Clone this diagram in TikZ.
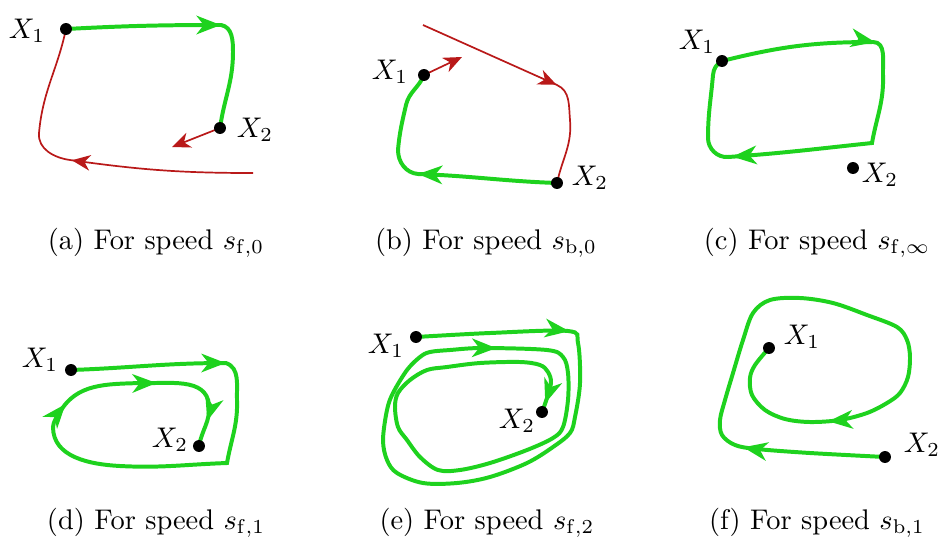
\documentclass[tikz,border=0pt]{standalone}
\usepackage{amsmath}
\usepackage{xcolor}
\usepackage{tikz}
\usetikzlibrary{arrows.meta,decorations.markings,backgrounds}

\definecolor{pathgreen}{RGB}{30,210,30}
\definecolor{pathred}{RGB}{185,25,25}

\begin{document}
\begin{tikzpicture}[
  x=0.352pt, y=0.352pt,
  dot/.style={circle, fill=black, inner sep=0pt, minimum size=4.2pt},
  lbl/.style={inner sep=0pt},
  capt/.style={inner sep=0pt},
  gline/.style={draw=pathgreen, line width=1.4pt,
                >={Stealth[length=8.5pt, width=6.5pt, inset=2.5pt]}},
  rline/.style={draw=pathred, line width=0.6pt,
                >={Stealth[length=6.5pt, width=5.5pt, inset=2pt]}},
  marrow/.style={postaction={decorate, decoration={markings,
                 mark=at position #1 with {\arrow{>}}}}}
]
\useasboundingbox (0,0) rectangle (940,-547);

\node[dot] (a1) at (66,-29) {};
\node[dot] (a2) at (220,-128) {};
\node[lbl] (a1l) at (27,-31) {$X_1$};
\node[lbl] (a2l) at (255,-130) {$X_2$};
\coordinate (a0) at (253,-173);
\coordinate (a3) at (172,-147);
\node[capt] (capa) at (156,-243) {(a) For speed $s_{\mathrm{f},0}$};

\node[dot] (b1) at (424,-75) {};
\node[dot] (b2) at (557,-183) {};
\node[lbl] (b1l) at (390,-72) {$X_1$};
\node[lbl] (b2l) at (590,-178) {$X_2$};
\coordinate (b0) at (423,-25);
\coordinate (b3) at (462,-57);
\node[capt] (capb) at (486,-243) {(b) For speed $s_{\mathrm{b},0}$};

\node[dot] (c1) at (722,-61) {};
\node[dot] (c2) at (853,-168) {};
\node[lbl] (c1l) at (697,-42) {$X_1$};
\node[lbl] (c2l) at (880,-175) {$X_2$};
\node[capt] (capc) at (817,-243) {(c) For speed $s_{\mathrm{f},\infty}$};

\node[dot] (d1) at (71,-370) {};
\node[dot] (d2) at (199,-446) {};
\node[lbl] (d1l) at (40,-360) {$X_1$};
\node[lbl] (d2l) at (170,-440) {$X_2$};
\node[capt] (capd) at (156,-523) {(d) For speed $s_{\mathrm{f},1}$};

\node[dot] (e1) at (416,-337) {};
\node[dot] (e2) at (542,-412) {};
\node[lbl] (e1l) at (386,-346) {$X_1$};
\node[lbl] (e2l) at (517,-421) {$X_2$};
\node[capt] (cape) at (487,-523) {(e) For speed $s_{\mathrm{f},2}$};

\node[dot] (f1) at (769,-348) {};
\node[dot] (f2) at (885,-457) {};
\node[lbl] (f1l) at (802,-337) {$X_1$};
\node[lbl] (f2l) at (922,-445) {$X_2$};
\node[capt] (capf) at (817,-523) {(f) For speed $s_{\mathrm{b},1}$};

\begin{scope}[on background layer]
\draw[gline, marrow=54.5pt] (a1.center) to[out=3,in=180] (221,-25)
  to[out=-10,in=90] (233,-52) to[out=-90,in=82] (a2.center);
\draw[rline, marrow=64pt] (a0) to[out=180,in=-8] (70,-160)
  to[out=172,in=-95] (39,-133) to[out=85,in=-102] (a1.center);
\draw[rline, ->] (a2.center) -- (a3);

\draw[rline, marrow=51.5pt] (b0) -- (557,-85) to[out=-24,in=95] (570,-120)
  to[out=-85,in=78] (b2.center);
\draw[rline, ->] (b1.center) -- (b3);
\draw[gline, marrow=49pt] (b2.center) to[out=178,in=-2] (418,-174)
  to[out=175,in=-90] (398,-150) to[out=85,in=-103] (406,-105)
  to[out=77,in=-112] (b1.center);

\draw[gline, marrow=54.5pt, marrow=141pt] (c1.center) to[out=14,in=180] (873,-42)
  to[out=0,in=92] (883,-75) to[out=-88,in=80] (872,-143)
  to[out=186,in=4] (728,-157) to[out=184,in=-90] (708,-138)
  to[out=90,in=-95] (713,-75) to[out=85,in=-150] (c1.center);

\draw[gline, marrow=54.5pt, marrow=169pt, marrow=203pt, marrow=231pt]
  (d1.center) to[out=2,in=180] (226,-363) to[out=-20,in=92] (237,-400)
  to[out=-88,in=80] (227,-463) to[out=182,in=-3] (120,-466)
  to[out=177,in=-90] (53,-427) to[out=85,in=-120] (60,-412)
  to[out=60,in=182] (140,-383)
  to[out=-2,in=95] (209,-405) to[out=-85,in=80] (d2.center);

\draw[gline, marrow=54pt, marrow=232pt, marrow=-3.3pt] plot[smooth, tension=0.55]
  coordinates {(e1.center) (490,-333) (568,-331) (578,-343) (580,-383)
  (575,-417) (570,-433) (553,-447) (527,-463) (490,-477) (457,-483)
  (423,-483) (397,-473) (387,-460) (383,-440) (387,-410) (393,-393)
  (407,-370) (420,-357) (430,-352) (450,-350) (483,-348) (547,-350)
  (563,-357) (568,-373) (568,-400) (563,-427) (553,-438) (527,-450)
  (490,-463) (460,-470) (438,-470) (420,-457) (407,-440) (398,-427)
  (395,-407) (398,-393) (410,-380) (427,-370) (447,-367) (480,-363)
  (520,-362) (540,-365) (548,-372) (551,-383) (546,-401) (e2.center)};

\draw[gline, marrow=50pt, marrow=211pt] plot[smooth, tension=0.55]
  coordinates {(f2.center) (810,-453) (757,-449) (735,-445) (722,-435)
  (720,-420) (725,-400) (733,-373) (743,-340) (753,-313) (770,-300)
  (800,-298) (833,-303) (867,-315) (897,-327) (907,-340) (910,-357)
  (908,-377) (900,-393) (887,-403) (867,-413) (840,-420) (810,-422)
  (785,-419) (765,-410) (752,-395) (750,-378) (755,-365) (f1.center)};
\end{scope}
\end{tikzpicture}
\end{document}
